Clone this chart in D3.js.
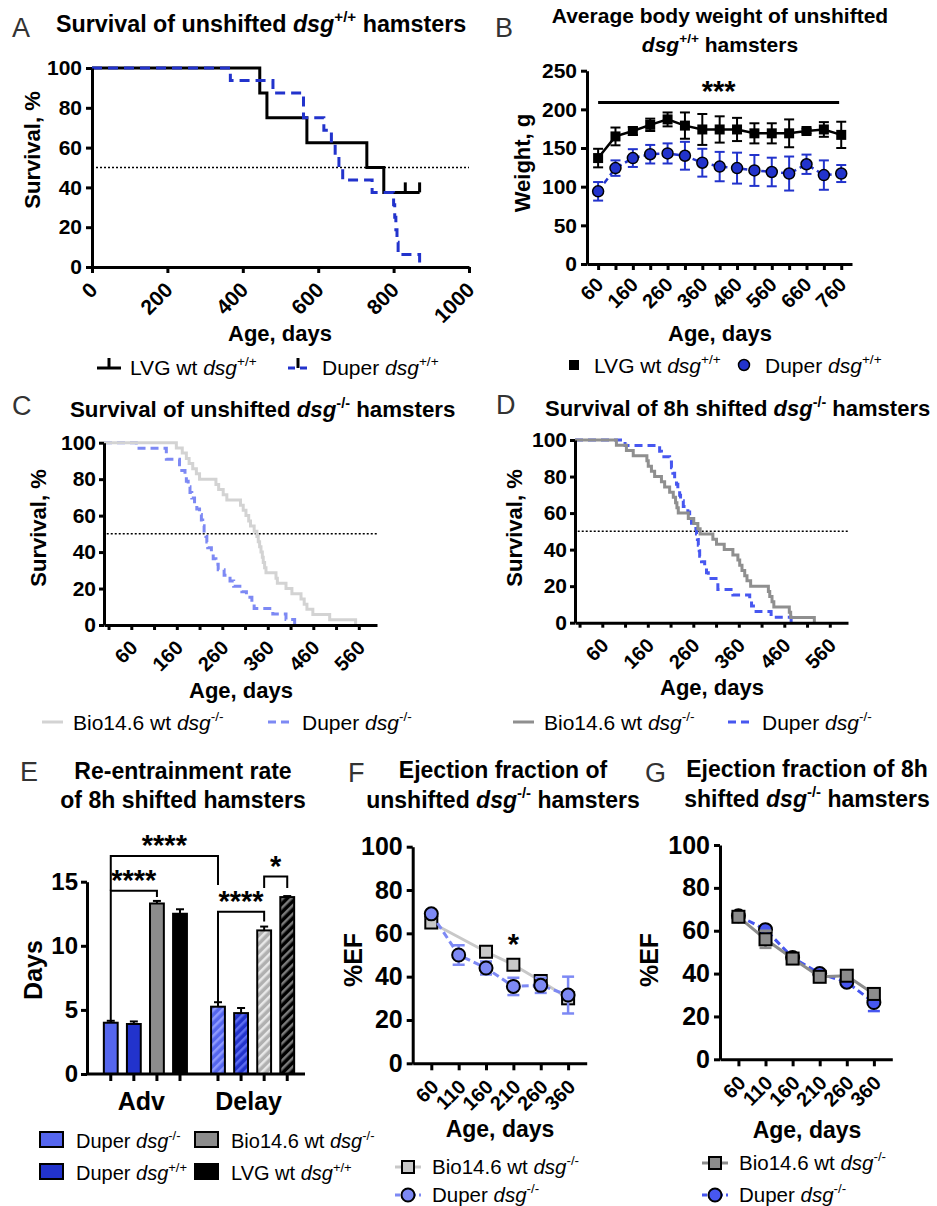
<!DOCTYPE html>
<html>
<head>
<meta charset="utf-8">
<script src="https://cdn.jsdelivr.net/npm/d3@7"></script>
<style>
  body { margin: 0; background: #fff; }
  svg { font-family: "Liberation Sans", Arial, Helvetica, sans-serif; }
</style>
</head>
<body>
<svg id="fig" width="937" height="1206"></svg>
<script>
// ---------- data ----------
// A: survival of unshifted dsg+/+ (age in days, % surviving), step changes
const survA_lvg = [[0,100],[445,87.5],[464,75],[570,62.5],[729,50],[774,37.5],[869,37.5]];
const survA_lvgCensor = [831, 869];
const survA_duper = [[0,100],[367,93.75],[480,87.5],[561,75],[615,68.75],[635,62.5],[645,56.25],
  [655,50],[665,43.75],[743,37.5],[800,31.25],[803,25],[806,18.75],[809,12.5],[812,6.25],[869,0]];

// B: body weight (g), mean and error
const weightAges = [60,110,160,210,260,310,360,410,460,510,560,610,660,710,760];
const weightLvgMean = [137,165,172,180,187,179,174,174,174,169,169,169,172,174,167];
const weightLvgErr = [12,11.5,5,8,9,17,20,17,15,13,13,18,3,9.5,17];
const weightDuperMean = [94,124,137,142,143,140,131,126,124,121,119,117,129,115,117];
const weightDuperErr = [12,10,11.5,12,13,18,18,19,20,20,18.5,22,12.5,19,11];

// C: survival of unshifted dsg-/-
const survC_bio = [[0,100],[159,97.1],[172,94.3],[181,91.4],[187,88.6],[195,85.7],[203,82.9],[210,80],
  [246,77.1],[252,74.3],[262,71.4],[270,68.6],[300,65.7],[306,62.9],[312,60],[318,57.1],[322,54.3],
  [330,51.4],[336,48.6],[339,45.7],[342,42.9],[345,40],[348,37.1],[350,34.3],[353,31.4],[356,28.6],
  [378,25.7],[381,22.9],[400,20],[413,17.1],[433,14.3],[440,11.4],[446,8.6],[459,5.7],[496,2.9],[553,0]];
const survC_duper = [[0,100],[71,97],[137,90.9],[166,87.9],[171,84.8],[178,81.8],[181,78.8],[185,75.8],
  [189,72.7],[193,69.7],[199,66.7],[204,63.6],[210,60.6],[214,57.6],[217,54.5],[220,51.5],[224,48.5],
  [226,45.5],[228,42.4],[236,39.4],[240,36.4],[246,33.3],[251,30.3],[264,27.3],[277,24.2],[285,21.2],
  [303,18.2],[313,15.2],[325,12.1],[330,9.1],[371,6.1],[400,3],[419,0]];

// D: survival of 8h shifted dsg-/-
const survD_bio = [[0,100],[91,97.1],[113,94.3],[128,91.4],[158,88.6],[161,85.7],[168,82.9],[175,80],
  [190,77.1],[197,74.3],[208,71.4],[216,68.6],[221,65.7],[224,62.9],[227,60],[249,57.1],[261,54.3],
  [270,51.4],[275,48.6],[303,45.7],[311,42.9],[328,40],[347,37.1],[358,34.3],[362,31.4],[367,28.6],
  [373,25.7],[378,22.9],[386,20],[425,17.1],[428,14.3],[433,11.4],[437,8.6],[471,5.7],[474,2.9],[526,0]];
const survD_duper = [[0,100],[110,97],[186,93.9],[190,90.9],[208,87.9],[212,84.8],[215,81.8],[219,78.8],
  [223,75.8],[226,72.7],[230,69.7],[232,66.7],[238,63.6],[248,60.6],[252,57.6],[256,54.5],[260,51.5],
  [267,48.5],[269,45.5],[271,42.4],[273,39.4],[274,36.4],[278,33.3],[285,30.3],[289,27.3],[293,24.2],
  [314,18.2],[347,15.2],[384,12.1],[388,9.1],[398,6.1],[431,3],[475,0]];

// E: re-entrainment days
const shiftGroups = ["Adv", "Delay"];
const strains = ["Duper -/-", "Duper +/+", "Bio14.6 -/-", "LVG +/+"];
const reentryAdvMean = [4.0, 3.9, 13.3, 12.5];
const reentryAdvErr = [0.15, 0.2, 0.2, 0.35];
const reentryDelayMean = [5.25, 4.75, 11.2, 13.8];
const reentryDelayErr = [0.35, 0.4, 0.3, 0.08];
// brackets: [group1, strain1, group2, strain2, height (days), left leg end, right leg end, label]
const brackets = [
  ["Adv", 0, "Adv", 2, 14.3, 4.05, 13.8, "****"],
  ["Adv", 0, "Delay", 0, 17.0, 14.3, 14.75, "****"],
  ["Delay", 0, "Delay", 2, 12.66, 5.6, 11.9, "****"],
  ["Delay", 2, "Delay", 3, 15.4, 14.5, 14.5, "*"]
];

// F, G: ejection fraction (%)
const efAges = ["60", "110", "160", "210", "260", "360"];
const efF_bio = [65, null, 51.5, 45.5, 38, 30];
const efF_bioErr = [1, 0, 1.5, 1.5, 1.5, 1.5];
const efF_duper = [69, 50, 44, 35.5, 36, 31.5];
const efF_duperErr = [1.5, 4.5, 3, 4, 3.5, 8.5];
const efG_bio = [66.5, 56, 47, 38.5, 39, 30.5];
const efG_bioErr = [1, 4, 1.5, 1, 1, 1.5];
const efG_duper = [67, 60.5, 47.5, 40, 36, 26.5];
const efG_duperErr = [1, 1.5, 1, 1, 1.5, 4];

// ---------- helpers ----------
const FONT = '"Liberation Sans", Arial, Helvetica, sans-serif';
const svg = d3.select("#fig");
const defs = svg.append("defs");

// parts: plain string, ["i", text] italic, ["s", text] superscript
function rich(g, x, y, parts, size, weight, anchor) {
  const t = g.append("text").attr("x", x).attr("y", y)
    .attr("font-size", size).attr("font-weight", weight || "normal")
    .attr("text-anchor", anchor || "start");
  let back = 0;
  parts.forEach(p => {
    const s = t.append("tspan");
    if (typeof p === "string") {
      s.text(p);
    } else if (p[0] === "i") {
      s.text(p[1]).attr("font-style", "italic");
    } else {
      s.text(p[1]).attr("font-size", size * 0.65).attr("dy", -size * 0.42);
      back = size * 0.42;
      return;
    }
    if (back) { s.attr("dy", back); back = 0; }
  });
  return t;
}

function letter(x, y, txt) {
  svg.append("text").attr("x", x).attr("y", y).attr("font-size", 27)
    .attr("fill", "#333").text(txt);
}

function vLabel(x, y, txt, size) {
  svg.append("text").attr("transform", `translate(${x},${y}) rotate(-90)`)
    .attr("text-anchor", "middle").attr("font-size", size).attr("font-weight", "bold").text(txt);
}

function hLabel(x, y, txt, size) {
  svg.append("text").attr("x", x).attr("y", y)
    .attr("text-anchor", "middle").attr("font-size", size).attr("font-weight", "bold").text(txt);
}

function styleAxis(g, fs) {
  g.attr("font-family", FONT).attr("font-size", fs).attr("font-weight", "bold");
  g.select(".domain").attr("stroke-width", 3);
  g.selectAll(".tick line").attr("stroke-width", 3);
  g.selectAll(".tick text").attr("fill", "#000");
}

function rotateTicks(g, dx, dy) {
  g.selectAll(".tick text").attr("x", 0).attr("y", 0).attr("dy", "0.35em")
    .attr("text-anchor", "end").attr("transform", `translate(${dx},${dy}) rotate(-45)`);
}

function stepLine(x, y) {
  return d3.line().x(d => x(d[0])).y(d => y(d[1])).curve(d3.curveStepAfter);
}

const supP = ["s", "+/+"], supM = ["s", "-/-"];

// ---------- A ----------
letter(12, 37, "A");
rich(svg, 56, 32, ["Survival of unshifted ", ["i", "dsg"], supP, " hamsters"], 23.3, "bold");
{
  const x = d3.scaleLinear().domain([0, 1000]).range([92, 469]);
  const y = d3.scaleLinear().domain([0, 100]).range([267, 68]);
  svg.append("line").attr("x1", x(0)).attr("x2", x(1000)).attr("y1", y(50)).attr("y2", y(50))
    .attr("stroke", "#000").attr("stroke-width", 1.5).attr("stroke-dasharray", "2,2");
  svg.append("path").datum(survA_lvg).attr("d", stepLine(x, y))
    .attr("fill", "none").attr("stroke", "#000").attr("stroke-width", 3);
  survA_lvgCensor.forEach(d => {
    svg.append("line").attr("x1", x(d)).attr("x2", x(d)).attr("y1", y(37.5)).attr("y2", y(37.5) - 10)
      .attr("stroke", "#000").attr("stroke-width", 3);
  });
  svg.append("path").datum(survA_duper).attr("d", stepLine(x, y))
    .attr("fill", "none").attr("stroke", "#2233cc").attr("stroke-width", 3).attr("stroke-dasharray", "10,6");
  const gx = svg.append("g").attr("transform", "translate(0,267)")
    .call(d3.axisBottom(x).tickValues([0, 200, 400, 600, 800, 1000]).tickFormat(d3.format("d"))
      .tickSize(6).tickSizeOuter(0));
  styleAxis(gx, 21); rotateTicks(gx, 1, 19);
  const gy = svg.append("g").attr("transform", "translate(92,0)")
    .call(d3.axisLeft(y).tickValues([0, 20, 40, 60, 80, 100]).tickSize(6).tickPadding(4).tickSizeOuter(0));
  styleAxis(gy, 21);
  vLabel(40, 150, "Survival, %", 22);
  hLabel(280, 341, "Age, days", 22);
  // legend
  svg.append("line").attr("x1", 97).attr("x2", 121).attr("y1", 368).attr("y2", 368).attr("stroke", "#000").attr("stroke-width", 3);
  svg.append("line").attr("x1", 109).attr("x2", 109).attr("y1", 368).attr("y2", 358).attr("stroke", "#000").attr("stroke-width", 3);
  rich(svg, 130, 375, ["LVG wt ", ["i", "dsg"], supP], 21);
  svg.append("line").attr("x1", 288).attr("x2", 312).attr("y1", 368).attr("y2", 368).attr("stroke", "#2233cc")
    .attr("stroke-width", 3).attr("stroke-dasharray", "7,5");
  svg.append("line").attr("x1", 298).attr("x2", 298).attr("y1", 368).attr("y2", 358).attr("stroke", "#000").attr("stroke-width", 3);
  rich(svg, 322, 375, ["Duper ", ["i", "dsg"], supP], 21);
}

// ---------- B ----------
letter(495, 37, "B");
rich(svg, 720, 23, ["Average body weight of unshifted"], 21, "bold", "middle");
rich(svg, 720, 52, [["i", "dsg"], supP, " hamsters"], 21, "bold", "middle");
{
  const x = d3.scaleLinear().domain([28, 791]).range([587, 852]);
  const y = d3.scaleLinear().domain([0, 250]).range([264, 70.7]);
  const blue = "#2233cc";
  // significance bar
  svg.append("line").attr("x1", x(60)).attr("x2", x(754)).attr("y1", y(209)).attr("y2", y(209))
    .attr("stroke", "#000").attr("stroke-width", 3);
  svg.append("text").attr("x", (x(60) + x(754)) / 2).attr("y", y(209) - 1).attr("text-anchor", "middle")
    .attr("font-size", 29).attr("font-weight", "bold").text("***");
  const series = [
    { m: weightDuperMean, e: weightDuperErr, c: blue, dash: "6,4" },
    { m: weightLvgMean, e: weightLvgErr, c: "#000", dash: null }
  ];
  series.forEach(s => {
    const pts = weightAges.map((a, i) => [a, s.m[i], s.e[i]]);
    svg.append("path").datum(pts).attr("d", d3.line().x(d => x(d[0])).y(d => y(d[1])))
      .attr("fill", "none").attr("stroke", s.c).attr("stroke-width", 2.5).attr("stroke-dasharray", s.dash);
    const eb = svg.append("g").attr("stroke", s.c).attr("stroke-width", 2);
    pts.forEach(d => {
      eb.append("line").attr("x1", x(d[0])).attr("x2", x(d[0])).attr("y1", y(d[1] - d[2])).attr("y2", y(d[1] + d[2]));
      eb.append("line").attr("x1", x(d[0]) - 5).attr("x2", x(d[0]) + 5).attr("y1", y(d[1] - d[2])).attr("y2", y(d[1] - d[2]));
      eb.append("line").attr("x1", x(d[0]) - 5).attr("x2", x(d[0]) + 5).attr("y1", y(d[1] + d[2])).attr("y2", y(d[1] + d[2]));
    });
  });
  svg.append("g").selectAll("rect").data(weightAges).join("rect")
    .attr("x", (d) => x(d) - 5).attr("y", (d, i) => y(weightLvgMean[i]) - 5).attr("width", 10).attr("height", 10)
    .attr("fill", "#000");
  svg.append("g").selectAll("circle").data(weightAges).join("circle")
    .attr("cx", d => x(d)).attr("cy", (d, i) => y(weightDuperMean[i])).attr("r", 5.5)
    .attr("fill", blue).attr("stroke", "#000").attr("stroke-width", 1.5);
  const gx = svg.append("g").attr("transform", "translate(0,264)")
    .call(d3.axisBottom(x).tickValues(weightAges).tickSize(6).tickSizeOuter(0)
      .tickFormat(d => (d - 60) % 100 === 0 ? d : ""));
  styleAxis(gx, 20); rotateTicks(gx, 1, 17);
  const gy = svg.append("g").attr("transform", "translate(587,0)")
    .call(d3.axisLeft(y).tickValues([0, 50, 100, 150, 200, 250]).tickSize(6).tickPadding(4).tickSizeOuter(0));
  styleAxis(gy, 21);
  vLabel(530, 163, "Weight, g", 22);
  hLabel(720, 341, "Age, days", 22);
  svg.append("rect").attr("x", 569).attr("y", 360).attr("width", 10).attr("height", 10).attr("fill", "#000");
  rich(svg, 594, 373, ["LVG wt ", ["i", "dsg"], supP], 21);
  svg.append("circle").attr("cx", 744).attr("cy", 365).attr("r", 5.5).attr("fill", blue).attr("stroke", "#000").attr("stroke-width", 1.5);
  rich(svg, 765, 373, ["Duper ", ["i", "dsg"], supP], 21);
}

// ---------- C and D ----------
function survPanel(o) {
  const x = d3.scaleLinear().domain([0, 600]).range([o.x0, o.x0 + 273]);
  const y = d3.scaleLinear().domain([0, 100]).range([o.yb, o.yt]);
  svg.append("line").attr("x1", x(6)).attr("x2", x(600)).attr("y1", y(50)).attr("y2", y(50))
    .attr("stroke", "#000").attr("stroke-width", 1.5).attr("stroke-dasharray", "2,2");
  svg.append("path").datum(o.duper).attr("d", stepLine(x, y))
    .attr("fill", "none").attr("stroke", o.blue).attr("stroke-width", 3).attr("stroke-dasharray", "8,5");
  svg.append("path").datum(o.bio).attr("d", stepLine(x, y))
    .attr("fill", "none").attr("stroke", o.gray).attr("stroke-width", 3);
  const ticks = d3.range(10, 561, 50);
  const gx = svg.append("g").attr("transform", `translate(0,${o.yb})`)
    .call(d3.axisBottom(x).tickValues(ticks).tickSize(5).tickSizeOuter(0)
      .tickFormat(d => (d - 60) % 100 === 0 ? d : ""));
  styleAxis(gx, 20); rotateTicks(gx, 2, 19);
  const gy = svg.append("g").attr("transform", `translate(${o.x0},0)`)
    .call(d3.axisLeft(y).tickValues([0, 20, 40, 60, 80, 100]).tickSize(5).tickPadding(3).tickSizeOuter(0));
  styleAxis(gy, 21);
  vLabel(o.ylab, 528, "Survival, %", 22);
  hLabel(o.xlab, o.xlabY, "Age, days", 22);
  svg.append("line").attr("x1", o.leg[0]).attr("x2", o.leg[0] + 21).attr("y1", 722).attr("y2", 722)
    .attr("stroke", o.gray).attr("stroke-width", 3);
  rich(svg, o.leg[0] + 31, 730, ["Bio14.6 wt ", ["i", "dsg"], supM], 21);
  svg.append("line").attr("x1", o.leg[1]).attr("x2", o.leg[1] + 24).attr("y1", 722).attr("y2", 722)
    .attr("stroke", o.blue).attr("stroke-width", 3).attr("stroke-dasharray", "8,5");
  rich(svg, o.leg[1] + 34, 730, ["Duper ", ["i", "dsg"], supM], 21);
}

letter(12, 415, "C");
rich(svg, 70, 417, ["Survival of unshifted ", ["i", "dsg"], supM, " hamsters"], 22.3, "bold");
survPanel({ x0: 104, yt: 442.7, yb: 625, bio: survC_bio, duper: survC_duper, gray: "#d3d3d3", blue: "#7d89f4",
  ylab: 46, xlab: 241, xlabY: 698, leg: [42, 268] });

letter(496, 414, "D");
rich(svg, 545, 416, ["Survival of 8h shifted ", ["i", "dsg"], supM, " hamsters"], 22, "bold");
survPanel({ x0: 575, yt: 440, yb: 622.7, bio: survD_bio, duper: survD_duper, gray: "#8f8f8f", blue: "#4757f0",
  ylab: 522, xlab: 712, xlabY: 695, leg: [513, 728] });

// ---------- E ----------
letter(20, 781, "E");
rich(svg, 183, 779, ["Re-entrainment rate"], 23, "bold", "middle");
rich(svg, 183, 808, ["of 8h shifted hamsters"], 23, "bold", "middle");
{
  function hatch(id, base, stripe) {
    const p = defs.append("pattern").attr("id", id).attr("patternUnits", "userSpaceOnUse")
      .attr("width", 6).attr("height", 6).attr("patternTransform", "rotate(45)");
    p.append("rect").attr("width", 6).attr("height", 6).attr("fill", base);
    p.append("rect").attr("width", 2.5).attr("height", 6).attr("fill", stripe);
  }
  const solid = ["#5566ee", "#2233cc", "#8c8c8c", "#000000"];
  hatch("h0", "#5566ee", "#8d99ff");
  hatch("h1", "#2233cc", "#5c6cf0");
  hatch("h2", "#b0b0b0", "#e8e8e8");
  hatch("h3", "#000000", "#7a7a7a");
  const x0 = d3.scaleBand().domain(shiftGroups).range([87, 311]).paddingInner(0.139).paddingOuter(0.114);
  const x1 = d3.scaleBand().domain(d3.range(4)).range([0, x0.bandwidth()]).paddingInner(0.4).paddingOuter(0.2);
  const y = d3.scaleLinear().domain([0, 15]).range([1074, 881.7]);
  const cx = (g, i) => x0(g) + x1(i) + x1.bandwidth() / 2;
  const rows = [];
  reentryAdvMean.forEach((m, i) => rows.push({ g: "Adv", i, m, e: reentryAdvErr[i], fill: solid[i] }));
  reentryDelayMean.forEach((m, i) => rows.push({ g: "Delay", i, m, e: reentryDelayErr[i], fill: `url(#h${i})` }));
  const bars = svg.append("g");
  rows.forEach(r => {
    bars.append("line").attr("x1", cx(r.g, r.i)).attr("x2", cx(r.g, r.i)).attr("y1", y(r.m)).attr("y2", y(r.m + r.e))
      .attr("stroke", "#000").attr("stroke-width", 2);
    bars.append("line").attr("x1", cx(r.g, r.i) - 4).attr("x2", cx(r.g, r.i) + 4).attr("y1", y(r.m + r.e)).attr("y2", y(r.m + r.e))
      .attr("stroke", "#000").attr("stroke-width", 2);
    bars.append("rect").attr("x", x0(r.g) + x1(r.i)).attr("y", y(r.m)).attr("width", x1.bandwidth())
      .attr("height", y(0) - y(r.m)).attr("fill", r.fill).attr("stroke", "#000").attr("stroke-width", 2);
  });
  brackets.forEach(b => {
    const xa = cx(b[0], b[1]), xb = cx(b[2], b[3]);
    svg.append("path").attr("d", `M${xa},${y(b[5])}V${y(b[4])}H${xb}V${y(b[6])}`)
      .attr("fill", "none").attr("stroke", "#000").attr("stroke-width", 2);
    svg.append("text").attr("x", (xa + xb) / 2).attr("y", y(b[4]) - 1).attr("text-anchor", "middle")
      .attr("font-size", 29).attr("font-weight", "bold").text(b[7]);
  });
  const gx = svg.append("g").attr("transform", "translate(0,1074)");
  gx.append("line").attr("x1", 87).attr("x2", 305).attr("stroke", "#000").attr("stroke-width", 3);
  rows.forEach(r => gx.append("line").attr("x1", cx(r.g, r.i)).attr("x2", cx(r.g, r.i)).attr("y1", 0).attr("y2", 7)
    .attr("stroke", "#000").attr("stroke-width", 3));
  shiftGroups.forEach(g => gx.append("text").attr("x", x0(g) + x0.bandwidth() / 2 - 4).attr("y", 36)
    .attr("text-anchor", "middle").attr("font-size", 25).attr("font-weight", "bold").text(g));
  const gy = svg.append("g").attr("transform", "translate(87,0)")
    .call(d3.axisLeft(y).tickValues([0, 5, 10, 15]).tickSize(6).tickPadding(3).tickSizeOuter(0));
  styleAxis(gy, 24);
  vLabel(42, 970, "Days", 25);
  const leg = [[40, 1132, 0, ["Duper ", ["i", "dsg"], supM]], [195, 1132, 2, ["Bio14.6 wt ", ["i", "dsg"], supM]],
               [40, 1164, 1, ["Duper ", ["i", "dsg"], supP]], [195, 1164, 3, ["LVG wt ", ["i", "dsg"], supP]]];
  leg.forEach(l => {
    svg.append("rect").attr("x", l[0]).attr("y", l[1]).attr("width", 23).attr("height", 15)
      .attr("fill", solid[l[2]]).attr("stroke", "#000").attr("stroke-width", 2);
    rich(svg, l[0] + 36, l[1] + 16, l[3], 20);
  });
}

// ---------- F and G ----------
function efPanel(o) {
  const x = d3.scalePoint().domain(efAges).range([o.x0, o.x1]).padding(0.68);
  const y = d3.scaleLinear().domain([0, 100]).range([o.yb, o.yt]);
  const series = {
    bio: { v: o.bio, e: o.bioErr, c: o.gray, dash: null, sym: "sq" },
    duper: { v: o.duper, e: o.duperErr, c: o.blue, dash: "7,4", sym: "ci" }
  };
  o.order.forEach(k => {
    const s = series[k];
    const pts = efAges.map((a, i) => [a, s.v[i], s.e[i]]).filter(d => d[1] != null);
    svg.append("path").datum(pts).attr("d", d3.line().x(d => x(d[0])).y(d => y(d[1])))
      .attr("fill", "none").attr("stroke", s.c).attr("stroke-width", 3).attr("stroke-dasharray", s.dash);
    const eb = svg.append("g").attr("stroke", s.c).attr("stroke-width", 2.5);
    pts.forEach(d => {
      eb.append("line").attr("x1", x(d[0])).attr("x2", x(d[0])).attr("y1", y(d[1] - d[2])).attr("y2", y(d[1] + d[2]));
      [d[1] - d[2], d[1] + d[2]].forEach(v => eb.append("line").attr("x1", x(d[0]) - 6).attr("x2", x(d[0]) + 6)
        .attr("y1", y(v)).attr("y2", y(v)));
    });
    pts.forEach(d => {
      if (s.sym === "sq") {
        svg.append("rect").attr("x", x(d[0]) - 6).attr("y", y(d[1]) - 6).attr("width", 12).attr("height", 12)
          .attr("fill", s.c).attr("stroke", "#000").attr("stroke-width", 2);
      } else {
        svg.append("circle").attr("cx", x(d[0])).attr("cy", y(d[1])).attr("r", 6.5)
          .attr("fill", s.c).attr("stroke", "#000").attr("stroke-width", 2);
      }
    });
  });
  if (o.star) {
    svg.append("text").attr("x", x(o.star)).attr("y", y(56) + 12).attr("text-anchor", "middle")
      .attr("font-size", 29).attr("font-weight", "bold").text("*");
  }
  const gx = svg.append("g").attr("transform", `translate(0,${o.yb})`)
    .call(d3.axisBottom(x).tickSize(7).tickSizeOuter(0));
  styleAxis(gx, 20); rotateTicks(gx, 3, 20);
  const gy = svg.append("g").attr("transform", `translate(${o.x0},0)`)
    .call(d3.axisLeft(y).tickValues([0, 20, 40, 60, 80, 100]).tickSize(6).tickPadding(4).tickSizeOuter(0));
  styleAxis(gy, 25);
  vLabel(o.ylab, 960, "%EF", 25);
  hLabel(o.mid, o.xlabY, "Age, days", 23);
  // legend
  const lx = o.leg;
  svg.append("line").attr("x1", lx).attr("x2", lx + 26).attr("y1", o.legY[0]).attr("y2", o.legY[0])
    .attr("stroke", o.gray).attr("stroke-width", 3);
  svg.append("rect").attr("x", lx + 7).attr("y", o.legY[0] - 6).attr("width", 12).attr("height", 12)
    .attr("fill", o.gray).attr("stroke", "#000").attr("stroke-width", 2);
  rich(svg, lx + 37, o.legY[0] + 7, ["Bio14.6 wt ", ["i", "dsg"], supM], 20.5);
  svg.append("line").attr("x1", lx).attr("x2", lx + 26).attr("y1", o.legY[1]).attr("y2", o.legY[1])
    .attr("stroke", o.blue).attr("stroke-width", 3).attr("stroke-dasharray", "5,3");
  svg.append("circle").attr("cx", lx + 13).attr("cy", o.legY[1]).attr("r", 6.5)
    .attr("fill", o.blue).attr("stroke", "#000").attr("stroke-width", 2);
  rich(svg, lx + 37, o.legY[1] + 7, ["Duper ", ["i", "dsg"], supM], 20.5);
}

letter(348, 782, "F");
rich(svg, 503, 778, ["Ejection fraction of"], 23, "bold", "middle");
rich(svg, 503, 808, ["unshifted ", ["i", "dsg"], supM, " hamsters"], 23, "bold", "middle");
efPanel({ x0: 412.7, x1: 586.7, yt: 846.7, yb: 1063.3, bio: efF_bio, bioErr: efF_bioErr,
  duper: efF_duper, duperErr: efF_duperErr, gray: "#c8c8c8", blue: "#7d89f4", order: ["bio", "duper"],
  star: "210", ylab: 362, mid: 500, xlabY: 1137, leg: 395, legY: [1167, 1195] });

letter(645, 782, "G");
rich(svg, 807, 777, ["Ejection fraction of 8h"], 23, "bold", "middle");
rich(svg, 807, 807, ["shifted ", ["i", "dsg"], supM, " hamsters"], 23, "bold", "middle");
efPanel({ x0: 720, x1: 892.3, yt: 845, yb: 1059.3, bio: efG_bio, bioErr: efG_bioErr,
  duper: efG_duper, duperErr: efG_duperErr, gray: "#8c8c8c", blue: "#4757f0", order: ["duper", "bio"],
  star: null, ylab: 658, mid: 807, xlabY: 1138, leg: 702, legY: [1163, 1195] });
</script>
</body>
</html>
